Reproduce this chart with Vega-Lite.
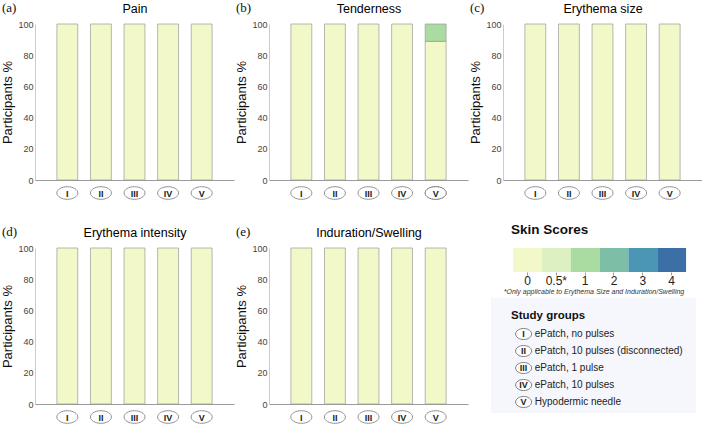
{
  "$schema": "https://vega.github.io/schema/vega-lite/v6.json",
  "padding": {"top": 2, "left": 1, "right": 0, "bottom": 0},
  "background": "white",
  "config": {
    "view": {"stroke": null},
    "font": "Liberation Sans",
    "axis": {"grid": false, "domainColor": "#9a9a9a", "labelColor": "#444", "titleFontWeight": "normal"},
    "axisY": {"labelOverlap": false, "labelBound": false}
  },
  "datasets": {
    "skin": [
      {"measure": "Pain", "group": "I", "score": "0", "pct": 100},
      {"measure": "Pain", "group": "II", "score": "0", "pct": 100},
      {"measure": "Pain", "group": "III", "score": "0", "pct": 100},
      {"measure": "Pain", "group": "IV", "score": "0", "pct": 100},
      {"measure": "Pain", "group": "V", "score": "0", "pct": 100},
      {"measure": "Tenderness", "group": "I", "score": "0", "pct": 100},
      {"measure": "Tenderness", "group": "II", "score": "0", "pct": 100},
      {"measure": "Tenderness", "group": "III", "score": "0", "pct": 100},
      {"measure": "Tenderness", "group": "IV", "score": "0", "pct": 100},
      {"measure": "Tenderness", "group": "V", "score": "0", "pct": 88.9},
      {"measure": "Tenderness", "group": "V", "score": "1", "pct": 11.1},
      {"measure": "Erythema size", "group": "I", "score": "0", "pct": 100},
      {"measure": "Erythema size", "group": "II", "score": "0", "pct": 100},
      {"measure": "Erythema size", "group": "III", "score": "0", "pct": 100},
      {"measure": "Erythema size", "group": "IV", "score": "0", "pct": 100},
      {"measure": "Erythema size", "group": "V", "score": "0", "pct": 100},
      {"measure": "Erythema intensity", "group": "I", "score": "0", "pct": 100},
      {"measure": "Erythema intensity", "group": "II", "score": "0", "pct": 100},
      {"measure": "Erythema intensity", "group": "III", "score": "0", "pct": 100},
      {"measure": "Erythema intensity", "group": "IV", "score": "0", "pct": 100},
      {"measure": "Erythema intensity", "group": "V", "score": "0", "pct": 100},
      {"measure": "Induration/Swelling", "group": "I", "score": "0", "pct": 100},
      {"measure": "Induration/Swelling", "group": "II", "score": "0", "pct": 100},
      {"measure": "Induration/Swelling", "group": "III", "score": "0", "pct": 100},
      {"measure": "Induration/Swelling", "group": "IV", "score": "0", "pct": 100},
      {"measure": "Induration/Swelling", "group": "V", "score": "0", "pct": 100}
    ],
    "scores": [
      {"score": "0"}, {"score": "0.5"}, {"score": "1"}, {"score": "2"}, {"score": "3"}, {"score": "4"}
    ],
    "groups": [
      {"group": "I", "label": "ePatch, no pulses", "row": 1},
      {"group": "II", "label": "ePatch, 10 pulses (disconnected)", "row": 2},
      {"group": "III", "label": "ePatch, 1 pulse", "row": 3},
      {"group": "IV", "label": "ePatch, 10 pulses", "row": 4},
      {"group": "V", "label": "Hypodermic needle", "row": 5}
    ]
  },
  "vconcat": [
    {
      "spacing": 1,
      "hconcat": [
        {
          "width": 199, "height": 156,
          "data": {"name": "skin"},
          "title": {"text": "(a)", "anchor": "start", "frame": "bounds", "font": "Liberation Serif", "fontSize": 13, "fontWeight": "normal", "offset": -13, "color": "#111"},
          "transform": [{"filter": "datum.measure === 'Pain'"}],
          "layer": [
            {
              "mark": {"type": "bar", "stroke": "#999", "strokeWidth": 0.7},
              "encoding": {
                "x": {"field": "group", "type": "nominal", "sort": ["I", "II", "III", "IV", "V"], "scale": {"type": "band", "paddingInner": 0.378, "paddingOuter": 0.652}, "axis": {"orient": "bottom", "title": null, "ticks": false, "tickSize": 0, "labelAngle": 0, "labelFontWeight": "bold", "labelFontSize": 9, "labelColor": "#222", "labelPadding": 13, "labelBaseline": "middle", "zindex": 1}},
                "y": {"field": "pct", "type": "quantitative", "stack": "zero", "scale": {"domain": [0, 100]}, "axis": {"title": "Participants %", "values": [0, 20, 40, 60, 80, 100], "labelOverlap": false, "ticks": false, "tickSize": 0, "labelPadding": 2, "labelFontSize": 9, "titleFontSize": 13, "titlePadding": 3, "titleColor": "#111", "domainColor": "#ccc"}},
                "color": {"field": "score", "type": "ordinal", "scale": {"domain": ["0", "0.5", "1", "2", "3", "4"], "range": ["#f3f8c9", "#ddf0c2", "#aadca2", "#7cbea6", "#4a96b4", "#3b6fa6"]}, "legend": null},
                "order": {"field": "score", "sort": "ascending"}
              }
            },
            {
              "mark": {"type": "point", "shape": "M-1,0A1,0.6 0 1,0 1,0A1,0.6 0 1,0 -1,0Z", "size": 441, "filled": true, "fill": "white", "stroke": "#777", "strokeWidth": 0.8, "opacity": 1, "yOffset": 13, "clip": false},
              "encoding": {
                "x": {"field": "group", "type": "nominal", "sort": ["I", "II", "III", "IV", "V"], "scale": {"type": "band", "paddingInner": 0.378, "paddingOuter": 0.652}, "axis": {"orient": "top", "title": "Pain", "labels": false, "ticks": false, "domain": false, "titleFontSize": 12.5, "titlePadding": 9, "titleColor": "#000"}},
                "y": {"datum": 0, "type": "quantitative", "axis": {"title": "Participants %", "values": [0, 20, 40, 60, 80, 100], "labelOverlap": false, "ticks": false, "tickSize": 0, "labelPadding": 2, "labelFontSize": 9, "titleFontSize": 13, "titlePadding": 3, "titleColor": "#111", "domainColor": "#ccc"}}
              }
            }
          ],
          "resolve": {"axis": {"x": "independent"}}
        },
        {
          "width": 199, "height": 156,
          "data": {"name": "skin"},
          "title": {"text": "(b)", "anchor": "start", "frame": "bounds", "font": "Liberation Serif", "fontSize": 13, "fontWeight": "normal", "offset": -13, "color": "#111"},
          "transform": [{"filter": "datum.measure === 'Tenderness'"}],
          "layer": [
            {
              "mark": {"type": "bar", "stroke": "#999", "strokeWidth": 0.7},
              "encoding": {
                "x": {"field": "group", "type": "nominal", "sort": ["I", "II", "III", "IV", "V"], "scale": {"type": "band", "paddingInner": 0.378, "paddingOuter": 0.652}, "axis": {"orient": "bottom", "title": null, "ticks": false, "tickSize": 0, "labelAngle": 0, "labelFontWeight": "bold", "labelFontSize": 9, "labelColor": "#222", "labelPadding": 13, "labelBaseline": "middle", "zindex": 1}},
                "y": {"field": "pct", "type": "quantitative", "stack": "zero", "scale": {"domain": [0, 100]}, "axis": {"title": "Participants %", "values": [0, 20, 40, 60, 80, 100], "labelOverlap": false, "ticks": false, "tickSize": 0, "labelPadding": 2, "labelFontSize": 9, "titleFontSize": 13, "titlePadding": 3, "titleColor": "#111", "domainColor": "#ccc"}},
                "color": {"field": "score", "type": "ordinal", "scale": {"domain": ["0", "0.5", "1", "2", "3", "4"], "range": ["#f3f8c9", "#ddf0c2", "#aadca2", "#7cbea6", "#4a96b4", "#3b6fa6"]}, "legend": null},
                "order": {"field": "score", "sort": "ascending"}
              }
            },
            {
              "mark": {"type": "point", "shape": "M-1,0A1,0.6 0 1,0 1,0A1,0.6 0 1,0 -1,0Z", "size": 441, "filled": true, "fill": "white", "stroke": "#777", "strokeWidth": 0.8, "opacity": 1, "yOffset": 13, "clip": false},
              "encoding": {
                "x": {"field": "group", "type": "nominal", "sort": ["I", "II", "III", "IV", "V"], "scale": {"type": "band", "paddingInner": 0.378, "paddingOuter": 0.652}, "axis": {"orient": "top", "title": "Tenderness", "labels": false, "ticks": false, "domain": false, "titleFontSize": 12.5, "titlePadding": 9, "titleColor": "#000"}},
                "y": {"datum": 0, "type": "quantitative", "axis": {"title": "Participants %", "values": [0, 20, 40, 60, 80, 100], "labelOverlap": false, "ticks": false, "tickSize": 0, "labelPadding": 2, "labelFontSize": 9, "titleFontSize": 13, "titlePadding": 3, "titleColor": "#111", "domainColor": "#ccc"}}
              }
            }
          ],
          "resolve": {"axis": {"x": "independent"}}
        },
        {
          "width": 199, "height": 156,
          "data": {"name": "skin"},
          "title": {"text": "(c)", "anchor": "start", "frame": "bounds", "font": "Liberation Serif", "fontSize": 13, "fontWeight": "normal", "offset": -13, "color": "#111"},
          "transform": [{"filter": "datum.measure === 'Erythema size'"}],
          "layer": [
            {
              "mark": {"type": "bar", "stroke": "#999", "strokeWidth": 0.7},
              "encoding": {
                "x": {"field": "group", "type": "nominal", "sort": ["I", "II", "III", "IV", "V"], "scale": {"type": "band", "paddingInner": 0.378, "paddingOuter": 0.652}, "axis": {"orient": "bottom", "title": null, "ticks": false, "tickSize": 0, "labelAngle": 0, "labelFontWeight": "bold", "labelFontSize": 9, "labelColor": "#222", "labelPadding": 13, "labelBaseline": "middle", "zindex": 1}},
                "y": {"field": "pct", "type": "quantitative", "stack": "zero", "scale": {"domain": [0, 100]}, "axis": {"title": "Participants %", "values": [0, 20, 40, 60, 80, 100], "labelOverlap": false, "ticks": false, "tickSize": 0, "labelPadding": 2, "labelFontSize": 9, "titleFontSize": 13, "titlePadding": 3, "titleColor": "#111", "domainColor": "#ccc"}},
                "color": {"field": "score", "type": "ordinal", "scale": {"domain": ["0", "0.5", "1", "2", "3", "4"], "range": ["#f3f8c9", "#ddf0c2", "#aadca2", "#7cbea6", "#4a96b4", "#3b6fa6"]}, "legend": null},
                "order": {"field": "score", "sort": "ascending"}
              }
            },
            {
              "mark": {"type": "point", "shape": "M-1,0A1,0.6 0 1,0 1,0A1,0.6 0 1,0 -1,0Z", "size": 441, "filled": true, "fill": "white", "stroke": "#777", "strokeWidth": 0.8, "opacity": 1, "yOffset": 13, "clip": false},
              "encoding": {
                "x": {"field": "group", "type": "nominal", "sort": ["I", "II", "III", "IV", "V"], "scale": {"type": "band", "paddingInner": 0.378, "paddingOuter": 0.652}, "axis": {"orient": "top", "title": "Erythema size", "labels": false, "ticks": false, "domain": false, "titleFontSize": 12.5, "titlePadding": 9, "titleColor": "#000"}},
                "y": {"datum": 0, "type": "quantitative", "axis": {"title": "Participants %", "values": [0, 20, 40, 60, 80, 100], "labelOverlap": false, "ticks": false, "tickSize": 0, "labelPadding": 2, "labelFontSize": 9, "titleFontSize": 13, "titlePadding": 3, "titleColor": "#111", "domainColor": "#ccc"}}
              }
            }
          ],
          "resolve": {"axis": {"x": "independent"}}
        }
      ]
    },
    {
      "spacing": 23,
      "hconcat": [
        {
          "spacing": 1,
          "hconcat": [
            {
              "width": 199, "height": 156,
              "data": {"name": "skin"},
              "title": {"text": "(d)", "anchor": "start", "frame": "bounds", "font": "Liberation Serif", "fontSize": 13, "fontWeight": "normal", "offset": -13, "color": "#111"},
              "transform": [{"filter": "datum.measure === 'Erythema intensity'"}],
              "layer": [
                {
                  "mark": {"type": "bar", "stroke": "#999", "strokeWidth": 0.7},
                  "encoding": {
                    "x": {"field": "group", "type": "nominal", "sort": ["I", "II", "III", "IV", "V"], "scale": {"type": "band", "paddingInner": 0.378, "paddingOuter": 0.652}, "axis": {"orient": "bottom", "title": null, "ticks": false, "tickSize": 0, "labelAngle": 0, "labelFontWeight": "bold", "labelFontSize": 9, "labelColor": "#222", "labelPadding": 13, "labelBaseline": "middle", "zindex": 1}},
                    "y": {"field": "pct", "type": "quantitative", "stack": "zero", "scale": {"domain": [0, 100]}, "axis": {"title": "Participants %", "values": [0, 20, 40, 60, 80, 100], "labelOverlap": false, "ticks": false, "tickSize": 0, "labelPadding": 2, "labelFontSize": 9, "titleFontSize": 13, "titlePadding": 3, "titleColor": "#111", "domainColor": "#ccc"}},
                    "color": {"field": "score", "type": "ordinal", "scale": {"domain": ["0", "0.5", "1", "2", "3", "4"], "range": ["#f3f8c9", "#ddf0c2", "#aadca2", "#7cbea6", "#4a96b4", "#3b6fa6"]}, "legend": null},
                    "order": {"field": "score", "sort": "ascending"}
                  }
                },
                {
                  "mark": {"type": "point", "shape": "M-1,0A1,0.6 0 1,0 1,0A1,0.6 0 1,0 -1,0Z", "size": 441, "filled": true, "fill": "white", "stroke": "#777", "strokeWidth": 0.8, "opacity": 1, "yOffset": 13, "clip": false},
                  "encoding": {
                    "x": {"field": "group", "type": "nominal", "sort": ["I", "II", "III", "IV", "V"], "scale": {"type": "band", "paddingInner": 0.378, "paddingOuter": 0.652}, "axis": {"orient": "top", "title": "Erythema intensity", "labels": false, "ticks": false, "domain": false, "titleFontSize": 12.5, "titlePadding": 9, "titleColor": "#000"}},
                    "y": {"datum": 0, "type": "quantitative", "axis": {"title": "Participants %", "values": [0, 20, 40, 60, 80, 100], "labelOverlap": false, "ticks": false, "tickSize": 0, "labelPadding": 2, "labelFontSize": 9, "titleFontSize": 13, "titlePadding": 3, "titleColor": "#111", "domainColor": "#ccc"}}
                  }
                }
              ],
              "resolve": {"axis": {"x": "independent"}}
            },
            {
              "width": 199, "height": 156,
              "data": {"name": "skin"},
              "title": {"text": "(e)", "anchor": "start", "frame": "bounds", "font": "Liberation Serif", "fontSize": 13, "fontWeight": "normal", "offset": -13, "color": "#111"},
              "transform": [{"filter": "datum.measure === 'Induration/Swelling'"}],
              "layer": [
                {
                  "mark": {"type": "bar", "stroke": "#999", "strokeWidth": 0.7},
                  "encoding": {
                    "x": {"field": "group", "type": "nominal", "sort": ["I", "II", "III", "IV", "V"], "scale": {"type": "band", "paddingInner": 0.378, "paddingOuter": 0.652}, "axis": {"orient": "bottom", "title": null, "ticks": false, "tickSize": 0, "labelAngle": 0, "labelFontWeight": "bold", "labelFontSize": 9, "labelColor": "#222", "labelPadding": 13, "labelBaseline": "middle", "zindex": 1}},
                    "y": {"field": "pct", "type": "quantitative", "stack": "zero", "scale": {"domain": [0, 100]}, "axis": {"title": "Participants %", "values": [0, 20, 40, 60, 80, 100], "labelOverlap": false, "ticks": false, "tickSize": 0, "labelPadding": 2, "labelFontSize": 9, "titleFontSize": 13, "titlePadding": 3, "titleColor": "#111", "domainColor": "#ccc"}},
                    "color": {"field": "score", "type": "ordinal", "scale": {"domain": ["0", "0.5", "1", "2", "3", "4"], "range": ["#f3f8c9", "#ddf0c2", "#aadca2", "#7cbea6", "#4a96b4", "#3b6fa6"]}, "legend": null},
                    "order": {"field": "score", "sort": "ascending"}
                  }
                },
                {
                  "mark": {"type": "point", "shape": "M-1,0A1,0.6 0 1,0 1,0A1,0.6 0 1,0 -1,0Z", "size": 441, "filled": true, "fill": "white", "stroke": "#777", "strokeWidth": 0.8, "opacity": 1, "yOffset": 13, "clip": false},
                  "encoding": {
                    "x": {"field": "group", "type": "nominal", "sort": ["I", "II", "III", "IV", "V"], "scale": {"type": "band", "paddingInner": 0.378, "paddingOuter": 0.652}, "axis": {"orient": "top", "title": "Induration/Swelling", "labels": false, "ticks": false, "domain": false, "titleFontSize": 12.5, "titlePadding": 9, "titleColor": "#000"}},
                    "y": {"datum": 0, "type": "quantitative", "axis": {"title": "Participants %", "values": [0, 20, 40, 60, 80, 100], "labelOverlap": false, "ticks": false, "tickSize": 0, "labelPadding": 2, "labelFontSize": 9, "titleFontSize": 13, "titlePadding": 3, "titleColor": "#111", "domainColor": "#ccc"}}
                  }
                }
              ],
              "resolve": {"axis": {"x": "independent"}}
            }
          ]
        },
        {
          "spacing": 4,
          "vconcat": [
            {
              "width": 205, "height": 24,
              "data": {"name": "scores"},
              "title": {"text": "Skin Scores", "anchor": "start", "frame": "group", "dx": 20, "offset": 12, "fontSize": 13.5, "fontWeight": "bold", "color": "#111"},
              "mark": {"type": "rect"},
              "encoding": {
                "x": {"field": "score", "type": "ordinal", "sort": ["0", "0.5", "1", "2", "3", "4"], "scale": {"paddingInner": 0, "paddingOuter": 0.555, "align": 0.69}, "axis": {"title": "*Only applicable to Erythema Size and Induration/Swelling", "titleFontStyle": "italic", "titleFontSize": 7, "titleFontWeight": "normal", "titleColor": "#333", "titlePadding": 1, "labelExpr": "datum.value === '0.5' ? '0.5*' : datum.label", "labelAngle": 0, "labelFontSize": 12, "labelColor": "#222", "domain": false, "tickSize": 3, "tickColor": "#999", "labelPadding": 0}},
                "color": {"field": "score", "type": "ordinal", "scale": {"domain": ["0", "0.5", "1", "2", "3", "4"], "range": ["#f3f8c9", "#ddf0c2", "#aadca2", "#7cbea6", "#4a96b4", "#3b6fa6"]}, "legend": null}
              }
            },
            {
              "width": 205, "height": 115,
              "data": {"name": "groups"},
              "view": {"fill": "#f6f7fc", "stroke": null},
              "title": {"text": "Study groups", "anchor": "start", "frame": "group", "dx": 20, "offset": -23, "fontSize": 11.5, "fontWeight": "bold", "color": "#111"},
              "encoding": {
                "y": {"field": "row", "type": "quantitative", "scale": {"domain": [-1.118, 5.647], "reverse": true}, "axis": null}
              },
              "layer": [
                {
                  "mark": {"type": "point", "shape": "M-1,0A1,0.69 0 1,0 1,0A1,0.69 0 1,0 -1,0Z", "size": 256, "filled": true, "fill": "white", "stroke": "#666", "strokeWidth": 0.8, "opacity": 1},
                  "encoding": {"x": {"datum": 3.5, "type": "quantitative", "scale": {"domain": [0, 20.5]}, "axis": null}}
                },
                {
                  "mark": {"type": "text", "fontWeight": "bold", "fontSize": 9, "color": "#222"},
                  "encoding": {"x": {"datum": 3.5, "type": "quantitative"}, "text": {"field": "group"}}
                },
                {
                  "mark": {"type": "text", "align": "left", "fontSize": 10, "color": "#222"},
                  "encoding": {"x": {"datum": 4.7, "type": "quantitative"}, "text": {"field": "label"}}
                }
              ]
            }
          ]
        }
      ]
    }
  ],
  "spacing": 21
}
